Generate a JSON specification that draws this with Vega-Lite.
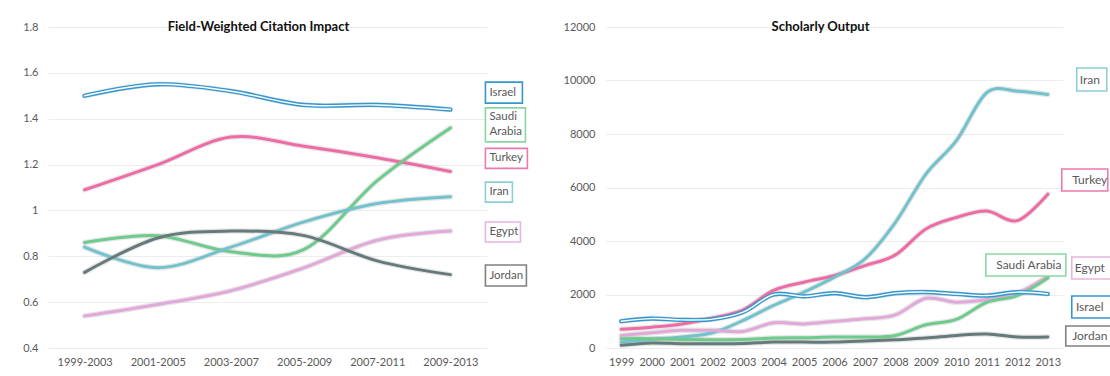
{
  "$schema": "https://vega.github.io/schema/vega-lite/v6.json",
  "padding": {"left": 0, "top": 21, "right": 0, "bottom": 0},
  "bounds": "flush",
  "spacing": 119,
  "background": "white",
  "config": {
    "font": "Lato",
    "view": {"stroke": null},
    "axis": {"labelColor": "#595959", "labelFontSize": 11, "labelFont": "Lato", "domain": false, "ticks": false, "gridColor": "#EDEDED", "title": null},
    "title": {"font": "Lato", "fontSize": 13, "fontWeight": "bold", "color": "#111111"}
  },
  "datasets": {
    "fwci": [
      {"period": "1999-2003", "country": "Israel", "value": 1.50},
      {"period": "2001-2005", "country": "Israel", "value": 1.55},
      {"period": "2003-2007", "country": "Israel", "value": 1.52},
      {"period": "2005-2009", "country": "Israel", "value": 1.46},
      {"period": "2007-2011", "country": "Israel", "value": 1.46},
      {"period": "2009-2013", "country": "Israel", "value": 1.44},
      {"period": "1999-2003", "country": "Turkey", "value": 1.09},
      {"period": "2001-2005", "country": "Turkey", "value": 1.20},
      {"period": "2003-2007", "country": "Turkey", "value": 1.32},
      {"period": "2005-2009", "country": "Turkey", "value": 1.28},
      {"period": "2007-2011", "country": "Turkey", "value": 1.23},
      {"period": "2009-2013", "country": "Turkey", "value": 1.17},
      {"period": "1999-2003", "country": "Saudi Arabia", "value": 0.86},
      {"period": "2001-2005", "country": "Saudi Arabia", "value": 0.89},
      {"period": "2003-2007", "country": "Saudi Arabia", "value": 0.82},
      {"period": "2005-2009", "country": "Saudi Arabia", "value": 0.83},
      {"period": "2007-2011", "country": "Saudi Arabia", "value": 1.13},
      {"period": "2009-2013", "country": "Saudi Arabia", "value": 1.36},
      {"period": "1999-2003", "country": "Iran", "value": 0.84},
      {"period": "2001-2005", "country": "Iran", "value": 0.75},
      {"period": "2003-2007", "country": "Iran", "value": 0.84},
      {"period": "2005-2009", "country": "Iran", "value": 0.95},
      {"period": "2007-2011", "country": "Iran", "value": 1.03},
      {"period": "2009-2013", "country": "Iran", "value": 1.06},
      {"period": "1999-2003", "country": "Egypt", "value": 0.54},
      {"period": "2001-2005", "country": "Egypt", "value": 0.59},
      {"period": "2003-2007", "country": "Egypt", "value": 0.65},
      {"period": "2005-2009", "country": "Egypt", "value": 0.75},
      {"period": "2007-2011", "country": "Egypt", "value": 0.87},
      {"period": "2009-2013", "country": "Egypt", "value": 0.91},
      {"period": "1999-2003", "country": "Jordan", "value": 0.73},
      {"period": "2001-2005", "country": "Jordan", "value": 0.88},
      {"period": "2003-2007", "country": "Jordan", "value": 0.91},
      {"period": "2005-2009", "country": "Jordan", "value": 0.89},
      {"period": "2007-2011", "country": "Jordan", "value": 0.78},
      {"period": "2009-2013", "country": "Jordan", "value": 0.72}
    ],
    "fwci_labels": [
      {"country": "Israel", "label": "Israel", "pos": 1.514, "textpos": 1.514},
      {"country": "Saudi Arabia", "label": "Saudi\nArabia", "pos": 1.373, "textpos": 1.407},
      {"country": "Turkey", "label": "Turkey", "pos": 1.227, "textpos": 1.227},
      {"country": "Iran", "label": "Iran", "pos": 1.080, "textpos": 1.080},
      {"country": "Egypt", "label": "Egypt", "pos": 0.906, "textpos": 0.906},
      {"country": "Jordan", "label": "Jordan", "pos": 0.716, "textpos": 0.716}
    ],
    "output": [
      {"year": 1999, "country": "Israel", "value": 1000},
      {"year": 2000, "country": "Israel", "value": 1100},
      {"year": 2001, "country": "Israel", "value": 1050},
      {"year": 2002, "country": "Israel", "value": 1080},
      {"year": 2003, "country": "Israel", "value": 1340},
      {"year": 2004, "country": "Israel", "value": 2000},
      {"year": 2005, "country": "Israel", "value": 1930},
      {"year": 2006, "country": "Israel", "value": 2050},
      {"year": 2007, "country": "Israel", "value": 1900},
      {"year": 2008, "country": "Israel", "value": 2050},
      {"year": 2009, "country": "Israel", "value": 2090},
      {"year": 2010, "country": "Israel", "value": 2020},
      {"year": 2011, "country": "Israel", "value": 1960},
      {"year": 2012, "country": "Israel", "value": 2090},
      {"year": 2013, "country": "Israel", "value": 2020},
      {"year": 1999, "country": "Turkey", "value": 700},
      {"year": 2000, "country": "Turkey", "value": 780},
      {"year": 2001, "country": "Turkey", "value": 900},
      {"year": 2002, "country": "Turkey", "value": 1120},
      {"year": 2003, "country": "Turkey", "value": 1430},
      {"year": 2004, "country": "Turkey", "value": 2150},
      {"year": 2005, "country": "Turkey", "value": 2460},
      {"year": 2006, "country": "Turkey", "value": 2710},
      {"year": 2007, "country": "Turkey", "value": 3080},
      {"year": 2008, "country": "Turkey", "value": 3480},
      {"year": 2009, "country": "Turkey", "value": 4450},
      {"year": 2010, "country": "Turkey", "value": 4880},
      {"year": 2011, "country": "Turkey", "value": 5120},
      {"year": 2012, "country": "Turkey", "value": 4760},
      {"year": 2013, "country": "Turkey", "value": 5750},
      {"year": 1999, "country": "Iran", "value": 220},
      {"year": 2000, "country": "Iran", "value": 320},
      {"year": 2001, "country": "Iran", "value": 410},
      {"year": 2002, "country": "Iran", "value": 570},
      {"year": 2003, "country": "Iran", "value": 1030},
      {"year": 2004, "country": "Iran", "value": 1590},
      {"year": 2005, "country": "Iran", "value": 2090},
      {"year": 2006, "country": "Iran", "value": 2650},
      {"year": 2007, "country": "Iran", "value": 3330},
      {"year": 2008, "country": "Iran", "value": 4700},
      {"year": 2009, "country": "Iran", "value": 6500},
      {"year": 2010, "country": "Iran", "value": 7750},
      {"year": 2011, "country": "Iran", "value": 9550},
      {"year": 2012, "country": "Iran", "value": 9600},
      {"year": 2013, "country": "Iran", "value": 9480},
      {"year": 1999, "country": "Egypt", "value": 470},
      {"year": 2000, "country": "Egypt", "value": 570},
      {"year": 2001, "country": "Egypt", "value": 660},
      {"year": 2002, "country": "Egypt", "value": 660},
      {"year": 2003, "country": "Egypt", "value": 620},
      {"year": 2004, "country": "Egypt", "value": 940},
      {"year": 2005, "country": "Egypt", "value": 900},
      {"year": 2006, "country": "Egypt", "value": 1000},
      {"year": 2007, "country": "Egypt", "value": 1090},
      {"year": 2008, "country": "Egypt", "value": 1240},
      {"year": 2009, "country": "Egypt", "value": 1860},
      {"year": 2010, "country": "Egypt", "value": 1710},
      {"year": 2011, "country": "Egypt", "value": 1810},
      {"year": 2012, "country": "Egypt", "value": 2050},
      {"year": 2013, "country": "Egypt", "value": 2680},
      {"year": 1999, "country": "Saudi Arabia", "value": 350},
      {"year": 2000, "country": "Saudi Arabia", "value": 350},
      {"year": 2001, "country": "Saudi Arabia", "value": 320},
      {"year": 2002, "country": "Saudi Arabia", "value": 310},
      {"year": 2003, "country": "Saudi Arabia", "value": 320},
      {"year": 2004, "country": "Saudi Arabia", "value": 370},
      {"year": 2005, "country": "Saudi Arabia", "value": 385},
      {"year": 2006, "country": "Saudi Arabia", "value": 410},
      {"year": 2007, "country": "Saudi Arabia", "value": 410},
      {"year": 2008, "country": "Saudi Arabia", "value": 470},
      {"year": 2009, "country": "Saudi Arabia", "value": 870},
      {"year": 2010, "country": "Saudi Arabia", "value": 1070},
      {"year": 2011, "country": "Saudi Arabia", "value": 1710},
      {"year": 2012, "country": "Saudi Arabia", "value": 1960},
      {"year": 2013, "country": "Saudi Arabia", "value": 2620},
      {"year": 1999, "country": "Jordan", "value": 100},
      {"year": 2000, "country": "Jordan", "value": 190},
      {"year": 2001, "country": "Jordan", "value": 160},
      {"year": 2002, "country": "Jordan", "value": 160},
      {"year": 2003, "country": "Jordan", "value": 170},
      {"year": 2004, "country": "Jordan", "value": 220},
      {"year": 2005, "country": "Jordan", "value": 220},
      {"year": 2006, "country": "Jordan", "value": 220},
      {"year": 2007, "country": "Jordan", "value": 260},
      {"year": 2008, "country": "Jordan", "value": 310},
      {"year": 2009, "country": "Jordan", "value": 370},
      {"year": 2010, "country": "Jordan", "value": 470},
      {"year": 2011, "country": "Jordan", "value": 520},
      {"year": 2012, "country": "Jordan", "value": 410},
      {"year": 2013, "country": "Jordan", "value": 410}
    ],
    "output_labels": [
      {"country": "Iran", "label": "Iran", "anchor": 2013, "pos": 10037},
      {"country": "Turkey", "label": "Turkey", "anchor": 2013, "pos": 6280},
      {"country": "Saudi Arabia", "label": "Saudi Arabia", "anchor": 2011, "pos": 3103},
      {"country": "Egypt", "label": "Egypt", "anchor": 2013, "pos": 2990},
      {"country": "Israel", "label": "Israel", "anchor": 2013, "pos": 1533},
      {"country": "Jordan", "label": "Jordan", "anchor": 2013, "pos": 449}
    ]
  },
  "resolve": {"scale": {"x": "independent", "y": "independent", "shape": "independent"}},
  "hconcat": [
    {
      "width": 439,
      "height": 321,
      "title": {"text": "Field-Weighted Citation Impact", "anchor": "middle", "frame": "group", "offset": -13, "dx": -9},
      "layer": [
        {
          "data": {"name": "fwci"},
          "mark": {"type": "line", "interpolate": "cardinal", "strokeWidth": 5.5, "strokeCap": "round", "color": "#8c8c8c", "opacity": 0.22},
          "encoding": {
            "x": {"field": "period", "type": "ordinal", "scale": {"type": "point", "padding": 0.5}, "axis": {"labelAngle": 0, "labelPadding": 8, "grid": false}},
            "y": {"field": "value", "type": "quantitative", "scale": {"domain": [0.4, 1.8], "nice": false, "zero": false}, "axis": {"values": [0.4, 0.6, 0.8, 1, 1.2, 1.4, 1.6, 1.8], "format": ".1~f", "labelPadding": 10, "minExtent": 48, "maxExtent": 48}},
            "detail": {"field": "country"}
          }
        },
        {
          "data": {"name": "fwci"},
          "mark": {"type": "line", "interpolate": "cardinal", "strokeWidth": 3, "strokeCap": "round"},
          "encoding": {
            "x": {"field": "period", "type": "ordinal"},
            "y": {"field": "value", "type": "quantitative"},
            "color": {"field": "country", "type": "nominal", "legend": null, "scale": {"domain": ["Israel", "Saudi Arabia", "Turkey", "Iran", "Egypt", "Jordan"], "range": ["#3498CF", "#6DCB8C", "#EE6BA5", "#70C2CC", "#E2A8DA", "#667A7C"]}}
          }
        },
        {
          "data": {"name": "fwci"},
          "transform": [{"filter": "datum.country === 'Israel'"}],
          "mark": {"type": "line", "interpolate": "cardinal", "strokeWidth": 4.2, "color": "#3498CF", "strokeCap": "round"},
          "encoding": {
            "x": {"field": "period", "type": "ordinal"},
            "y": {"field": "value", "type": "quantitative"}
          }
        },
        {
          "data": {"name": "fwci"},
          "transform": [{"filter": "datum.country === 'Israel'"}],
          "mark": {"type": "line", "interpolate": "cardinal", "strokeWidth": 1.4, "color": "white", "strokeCap": "round"},
          "encoding": {
            "x": {"field": "period", "type": "ordinal"},
            "y": {"field": "value", "type": "quantitative"}
          }
        },
        {
          "data": {"name": "fwci_labels"},
          "mark": {"type": "point", "fill": "white", "filled": true, "fillOpacity": 1, "opacity": 1, "strokeWidth": 1.6, "size": 400},
          "encoding": {
            "x": {"datum": "2009-2013", "type": "ordinal"},
            "y": {"field": "pos", "type": "quantitative"},
            "stroke": {"field": "country", "type": "nominal", "legend": null, "scale": {"domain": ["Israel", "Saudi Arabia", "Turkey", "Iran", "Egypt", "Jordan"], "range": ["#3498CF", "#8AD6A2", "#EE78AE", "#8CCFD6", "#E6B4E0", "#808080"]}},
            "shape": {"field": "country", "type": "nominal", "legend": null, "scale": {"domain": ["Israel", "Saudi Arabia", "Turkey", "Iran", "Egypt", "Jordan"], "range": [
              "M3.5,-1.05L7.2,-1.05L7.2,1.05L3.5,1.05Z",
              "M3.5,-1.7L7.5,-1.7L7.5,1.7L3.5,1.7Z",
              "M3.5,-1L7.7,-1L7.7,1L3.5,1Z",
              "M3.5,-1L6.2,-1L6.2,1L3.5,1Z",
              "M3.5,-1L7,-1L7,1L3.5,1Z",
              "M3.5,-1.05L7.6,-1.05L7.6,1.05L3.5,1.05Z"
            ]}}
          }
        },
        {
          "data": {"name": "fwci_labels"},
          "mark": {"type": "text", "align": "left", "baseline": "middle", "dx": 39, "fontSize": 11.5, "color": "#595959", "lineBreak": "\n", "lineHeight": 15},
          "encoding": {
            "x": {"datum": "2009-2013", "type": "ordinal"},
            "y": {"field": "textpos", "type": "quantitative"},
            "text": {"field": "label"}
          }
        }
      ]
    },
    {
      "width": 457,
      "height": 321,
      "title": {"text": "Scholarly Output", "anchor": "middle", "frame": "group", "offset": -13, "dx": -14},
      "layer": [
        {
          "data": {"name": "output"},
          "mark": {"type": "line", "interpolate": "cardinal", "strokeWidth": 5.5, "strokeCap": "round", "color": "#8c8c8c", "opacity": 0.22},
          "encoding": {
            "x": {"field": "year", "type": "ordinal", "scale": {"type": "point", "padding": 0.5}, "axis": {"labelAngle": 0, "labelPadding": 8, "grid": false}},
            "y": {"field": "value", "type": "quantitative", "scale": {"domain": [0, 12000], "nice": false}, "axis": {"values": [0, 2000, 4000, 6000, 8000, 10000, 12000], "format": "d", "labelPadding": 11}},
            "detail": {"field": "country"}
          }
        },
        {
          "data": {"name": "output"},
          "mark": {"type": "line", "interpolate": "cardinal", "strokeWidth": 3, "strokeCap": "round"},
          "encoding": {
            "x": {"field": "year", "type": "ordinal"},
            "y": {"field": "value", "type": "quantitative"},
            "color": {"field": "country", "type": "nominal", "legend": null, "scale": {"domain": ["Israel", "Saudi Arabia", "Turkey", "Iran", "Egypt", "Jordan"], "range": ["#3498CF", "#6DCB8C", "#EE6BA5", "#70C2CC", "#E2A8DA", "#667A7C"]}}
          }
        },
        {
          "data": {"name": "output"},
          "transform": [{"filter": "datum.country === 'Israel'"}],
          "mark": {"type": "line", "interpolate": "cardinal", "strokeWidth": 4.2, "color": "#3498CF", "strokeCap": "round"},
          "encoding": {
            "x": {"field": "year", "type": "ordinal"},
            "y": {"field": "value", "type": "quantitative"}
          }
        },
        {
          "data": {"name": "output"},
          "transform": [{"filter": "datum.country === 'Israel'"}],
          "mark": {"type": "line", "interpolate": "cardinal", "strokeWidth": 1.4, "color": "white", "strokeCap": "round"},
          "encoding": {
            "x": {"field": "year", "type": "ordinal"},
            "y": {"field": "value", "type": "quantitative"}
          }
        },
        {
          "data": {"name": "output_labels"},
          "mark": {"type": "point", "fill": "white", "filled": true, "fillOpacity": 1, "opacity": 1, "strokeWidth": 1.6, "size": 400},
          "encoding": {
            "x": {"field": "anchor", "type": "ordinal"},
            "y": {"field": "pos", "type": "quantitative"},
            "stroke": {"field": "country", "type": "nominal", "legend": null, "scale": {"domain": ["Israel", "Saudi Arabia", "Turkey", "Iran", "Egypt", "Jordan"], "range": ["#3498CF", "#8AD6A2", "#D0508C", "#8CCFD6", "#E6B4E0", "#808080"]}},
            "shape": {"field": "country", "type": "nominal", "legend": null, "scale": {"domain": ["Israel", "Saudi Arabia", "Turkey", "Iran", "Egypt", "Jordan"], "range": [
              "M2.4,-1.1L6.8,-1.1L6.8,1.1L2.4,1.1Z",
              "M-0.1,-1.1L7.9,-1.1L7.9,1.1L-0.1,1.1Z",
              "M1.4,-1.1L6,-1.1L6,1.1L1.4,1.1Z",
              "M2.9,-1.15L5.9,-1.15L5.9,1.15L2.9,1.15Z",
              "M2.4,-1.1L6.8,-1.1L6.8,1.1L2.4,1.1Z",
              "M1.8,-1L6.8,-1L6.8,1L1.8,1Z"
            ]}}
          }
        },
        {
          "data": {"name": "output_labels"},
          "mark": {"type": "text", "align": "center", "baseline": "middle", "dx": 42, "fontSize": 12, "color": "#595959"},
          "encoding": {
            "x": {"field": "anchor", "type": "ordinal"},
            "y": {"field": "pos", "type": "quantitative"},
            "text": {"field": "label"}
          }
        }
      ]
    }
  ]
}
